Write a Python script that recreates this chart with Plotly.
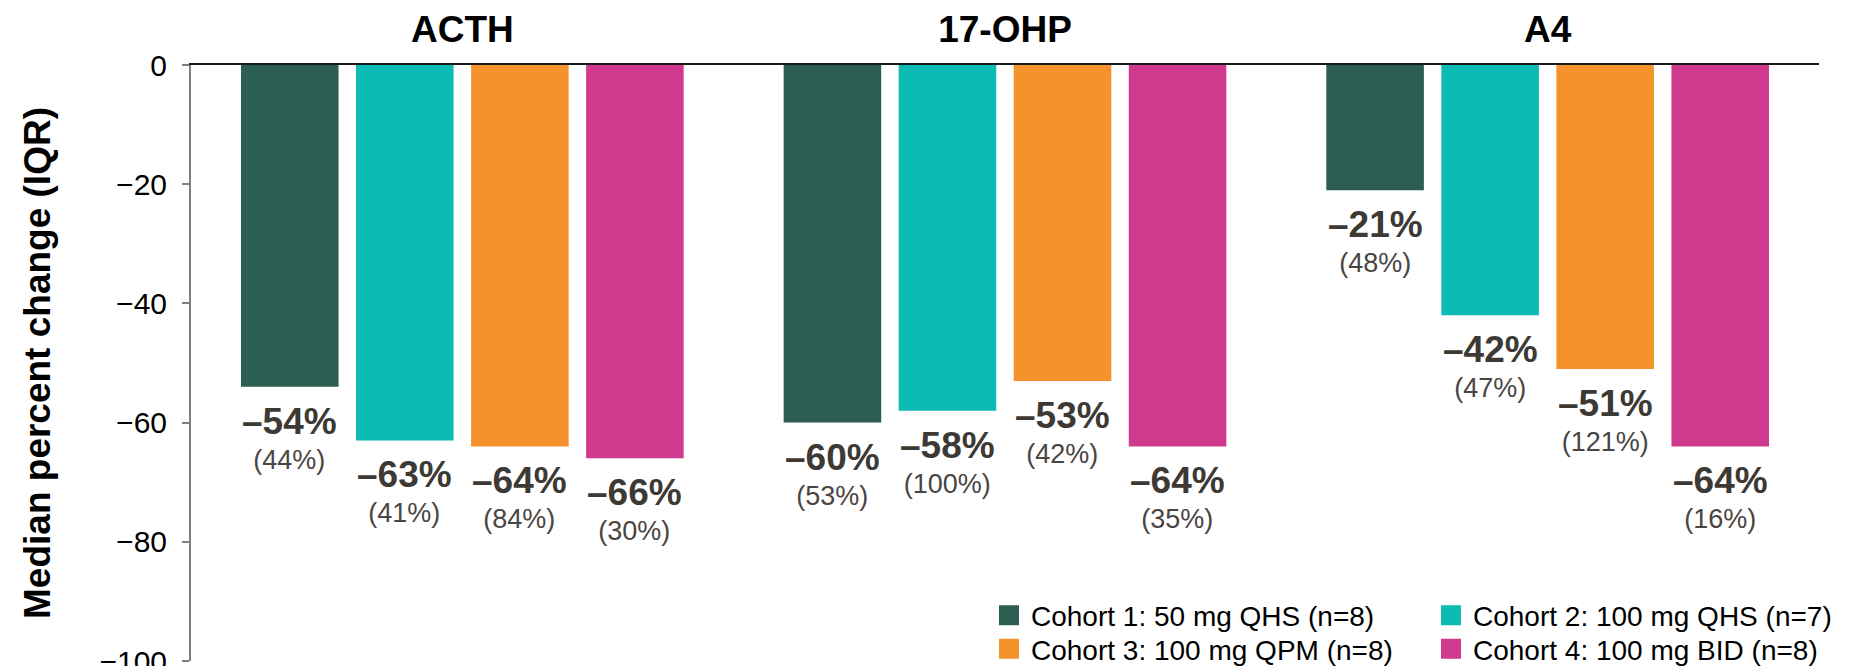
import plotly.graph_objects as go

# Hormone panels and cohorts
panels = ["ACTH", "17-OHP", "A4"]
cohort_names = [
    "Cohort 1: 50 mg QHS (n=8)",
    "Cohort 2: 100 mg QHS (n=7)",
    "Cohort 3: 100 mg QPM (n=8)",
    "Cohort 4: 100 mg BID (n=8)",
]
cohort_colors = ["#2C5F52", "#0DBBB5", "#F6922B", "#D03A8E"]

# Median percent change from baseline, per panel
cohort1_median = [-54, -60, -21]
cohort2_median = [-63, -58, -42]
cohort3_median = [-64, -53, -51]
cohort4_median = [-66, -64, -64]

# Interquartile range, per panel
cohort1_iqr = [44, 53, 48]
cohort2_iqr = [41, 100, 47]
cohort3_iqr = [84, 42, 121]
cohort4_iqr = [30, 35, 16]

y_ticks = [0, -20, -40, -60, -80, -100]

medians = [cohort1_median, cohort2_median, cohort3_median, cohort4_median]
iqrs = [cohort1_iqr, cohort2_iqr, cohort3_iqr, cohort4_iqr]

FONT = "Arial, Liberation Sans, sans-serif"
BAR_GAP = 0.152
GROUP_GAP = 0.152
W, H = 1849, 666
ML, MR, MT, MB = 191, 30, 65, 5
PW, PH = W - ML - MR, H - MT - MB

fig = go.Figure()

for i, (name, color, med) in enumerate(zip(cohort_names, cohort_colors, medians)):
    fig.add_trace(go.Bar(
        x=panels, y=med, name=name, marker=dict(color=color, line=dict(width=0)),
        showlegend=False, hoverinfo="skip",
    ))

# Legend entries: two rows of two cohorts
legend_rows = ["legend", "legend", "legend2", "legend2"]
for name, color, lg in zip(cohort_names, cohort_colors, legend_rows):
    fig.add_trace(go.Scatter(
        x=[None], y=[None], mode="markers", name=name, legend=lg,
        marker=dict(symbol="square", size=16, color=color, line=dict(color=color, width=4)),
    ))

# Value labels under each bar: median in bold, IQR beneath
slot = (1 - BAR_GAP) / 4
annotations = []
for i, (med, iqr) in enumerate(zip(medians, iqrs)):
    for j, (m, q) in enumerate(zip(med, iqr)):
        annotations.append(dict(
            x=j + (i - 1.5) * slot, y=m, xref="x", yref="y",
            text=f"<span style='font-size:37px;font-weight:bold;color:#3D3935'>\u2013{abs(m)}%</span>"
                 f"<br>({q}%)",
            showarrow=False, xanchor="center", yanchor="top", yshift=-12,
            font=dict(family=FONT, size=27, color="#4A4542"),
            align="center",
        ))

legend_common = dict(
    orientation="h", xref="paper", yref="paper", xanchor="left", yanchor="middle",
    font=dict(family=FONT, size=28, color="#000000"), bgcolor="rgba(0,0,0,0)",
    entrywidth=393, entrywidthmode="pixels", itemwidth=34, tracegroupgap=0,
)

fig.update_layout(
    width=W, height=H,
    margin=dict(l=ML, r=MR, t=MT, b=MB, autoexpand=False),
    paper_bgcolor="white", plot_bgcolor="white",
    barmode="group", bargap=BAR_GAP, bargroupgap=GROUP_GAP,
    font=dict(family=FONT, color="#000000"),
    legend=dict(x=(987 - ML) / PW, y=(H - MB - 615.5) / PH, **legend_common),
    legend2=dict(x=(987 - ML) / PW, y=(H - MB - 649) / PH, **legend_common),
    annotations=annotations,
    xaxis=dict(
        type="category", categoryorder="array", categoryarray=panels,
        side="top", range=[-0.5, 2.5],
        showline=True, linecolor="#1A1A1A", linewidth=2,
        ticks="", showgrid=False, zeroline=False,
        tickfont=dict(family=FONT, size=37, color="#000000", weight="bold"),
        ticklabelstandoff=6,
    ),
    yaxis=dict(
        range=[-100, 0], tickvals=y_ticks,
        showline=True, linecolor="#7F7F7F", linewidth=2,
        ticks="outside", ticklen=7, tickwidth=2, tickcolor="#7F7F7F",
        showgrid=False, zeroline=False,
        tickfont=dict(family=FONT, size=30, color="#000000"),
        ticklabelstandoff=9, ticklabeloverflow="allow",
        title=dict(text="Median percent change (IQR)", standoff=37,
                   font=dict(family=FONT, size=37, color="#000000", weight="bold")),
        automargin=False,
    ),
)

fig.write_html("out.html")
